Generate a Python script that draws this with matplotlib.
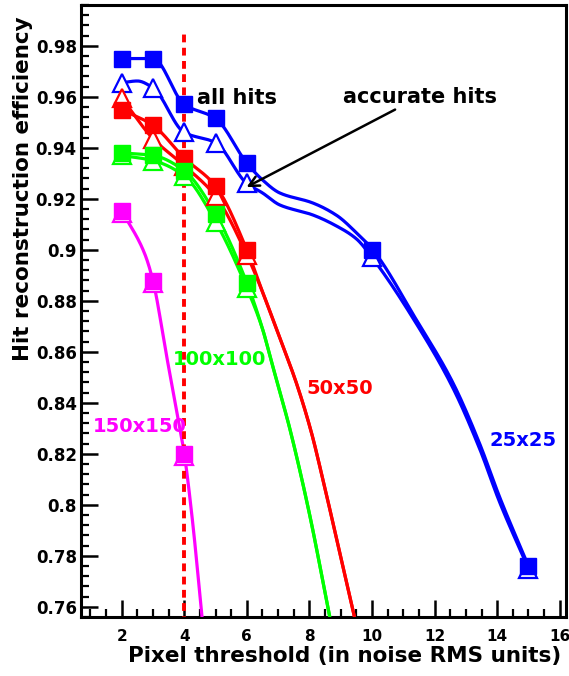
import numpy as np
import matplotlib
matplotlib.use("Agg")
import matplotlib.pyplot as plt
from matplotlib.ticker import MultipleLocator, FixedLocator

# ---------------- data ----------------
thr = [2, 3, 4, 5, 6]
thr_blue = [2, 3, 4, 5, 6, 10, 15]

blue_all = [0.975, 0.975, 0.957, 0.9515, 0.934, 0.900, 0.776]
blue_acc = [0.9655, 0.9635, 0.946, 0.942, 0.926, 0.897, 0.775]
red_all = [0.955, 0.9488, 0.936, 0.925, 0.900]
red_acc = [0.9595, 0.9436, 0.933, 0.921, 0.898]
green_all = [0.938, 0.937, 0.931, 0.914, 0.887]
green_acc = [0.937, 0.935, 0.929, 0.911, 0.885]
thr_mag = [2, 3, 4]
mag_all = [0.9153, 0.8878, 0.820]
mag_acc = [0.9145, 0.887, 0.819]

# traced fitted curves
blue_all_cx = [2, 3, 4, 5, 6, 6.5, 7.05, 8.1, 8.87, 9.5, 10, 11.42, 12.58, 13.44, 14.08, 15]
blue_all_cy = [0.975, 0.975, 0.957, 0.9515, 0.934, 0.9274, 0.9223, 0.9184, 0.9135, 0.9067,
               0.9004, 0.8725, 0.848, 0.824, 0.803, 0.776]
blue_acc_cx = [2, 2.5, 3, 4, 5, 6, 6.5, 7.05, 8.1, 8.87, 9.5, 10, 11.42, 12.58, 13.44,
               14.08, 15]
blue_acc_cy = [0.9655, 0.9662, 0.9635, 0.946, 0.942, 0.926, 0.9223, 0.9176, 0.9137,
               0.9093, 0.9043, 0.897, 0.871, 0.846, 0.822, 0.801, 0.775]
red_tail_x = [6.5, 7.05, 7.59, 8.06, 8.4, 8.75, 9.44]
red_tail_y = [0.8835, 0.8655, 0.8475, 0.8285, 0.8115, 0.793, 0.756]
green_tail_x = [6.5, 6.79, 7.37, 8.0, 8.65]
green_tail_y = [0.869, 0.856, 0.830, 0.7965, 0.756]
mag_cx = [2, 2.73, 3, 3.44, 3.8, 4, 4.26, 4.575]
mag_cy = [0.9153, 0.8986, 0.8878, 0.858, 0.834, 0.820, 0.794, 0.755]

size_labels = ["25x25", "50x50", "100x100", "150x150"]
label_pos = [(14.84, 0.8252), (8.96, 0.8455), (5.13, 0.8568), (2.58, 0.8306)]

cut_x = 4
cut_top = 0.985

xticks = [2, 4, 6, 8, 10, 12, 14, 16]
yticks = [0.76, 0.78, 0.80, 0.82, 0.84, 0.86, 0.88, 0.90, 0.92, 0.94, 0.96, 0.98]
ytick_labels = ["0.76", "0.78", "0.8", "0.82", "0.84", "0.86", "0.88", "0.9",
                "0.92", "0.94", "0.96", "0.98"]

BLUE, RED, GREEN, MAG = "#0000ff", "#ff0000", "#00ff00", "#ff00ff"


def smooth(xs, ys, n=30):
    """Monotone cubic (PCHIP) drawing of the traced curve points."""
    x = np.asarray(xs, float)
    y = np.asarray(ys, float)
    h = np.diff(x)
    d = np.diff(y) / h
    m = np.zeros_like(x)
    m[0], m[-1] = d[0], d[-1]
    for k in range(1, len(x) - 1):
        if d[k - 1] * d[k] <= 0:
            m[k] = 0.0
        else:
            w1 = 2 * h[k] + h[k - 1]
            w2 = h[k] + 2 * h[k - 1]
            m[k] = (w1 + w2) / (w1 / d[k - 1] + w2 / d[k])
    ox, oy = [], []
    for k in range(len(x) - 1):
        t = np.linspace(0, 1, n, endpoint=False)
        h00 = 2 * t ** 3 - 3 * t ** 2 + 1
        h10 = t ** 3 - 2 * t ** 2 + t
        h01 = -2 * t ** 3 + 3 * t ** 2
        h11 = t ** 3 - t ** 2
        ox.append(x[k] + t * h[k])
        oy.append(h00 * y[k] + h10 * h[k] * m[k] + h01 * y[k + 1] + h11 * h[k] * m[k + 1])
    ox.append([x[-1]])
    oy.append([y[-1]])
    return np.concatenate(ox), np.concatenate(oy)


plt.rcParams["font.family"] = ["DejaVu Sans"]
plt.rcParams["font.weight"] = "bold"

fig = plt.figure(figsize=(5.69, 6.76), dpi=100)
ax = fig.add_axes([0.1424, 0.0873, 0.9947 - 0.1424, 0.9926 - 0.0873])

lw = 2.3
sq = dict(marker="s", ms=11.5, mew=1.0, ls="none", zorder=5)
tri = dict(marker="^", ms=12.5, mew=1.6, ls="none", mfc="white", zorder=4)

# curves
for cx, cy, col in [
    (blue_all_cx, blue_all_cy, BLUE),
    (blue_acc_cx, blue_acc_cy, BLUE),
    (thr + red_tail_x, red_all + red_tail_y, RED),
    (thr + red_tail_x, red_acc + red_tail_y, RED),
    (thr + green_tail_x, green_all + green_tail_y, GREEN),
    (thr + green_tail_x, green_acc + green_tail_y, GREEN),
    (mag_cx, mag_cy, MAG),
]:
    sx, sy = smooth(cx, cy)
    ax.plot(sx, sy, color=col, lw=lw, zorder=3, solid_capstyle="butt")

# markers
for xs, ya, yc, col in [
    (thr_blue, blue_all, blue_acc, BLUE),
    (thr, red_all, red_acc, RED),
    (thr, green_all, green_acc, GREEN),
    (thr_mag, mag_all, mag_acc, MAG),
]:
    ax.plot(xs, yc, color=col, mec=col, **tri)
    ax.plot(xs, ya, color=col, mec=col, mfc=col, **sq)

# threshold line
ax.vlines(cut_x, 0.70, cut_top, colors=RED, linestyles=(0, (2.0, 1.4)), lw=2.8, zorder=3.5)

# annotations
ax.text(4.40, 0.9597, "all hits", fontsize=15, fontweight="bold", ha="left", va="center",
        zorder=7)
ax.annotate("accurate hits", xy=(5.99, 0.9246), xytext=(9.06, 0.9600),
            fontsize=15, fontweight="bold", ha="left", va="center",
            arrowprops=dict(arrowstyle="->", color="black", lw=1.8,
                            shrinkA=0, shrinkB=0, mutation_scale=18),
            zorder=7)
for lab, (px, py), col in zip(size_labels, label_pos, [BLUE, RED, GREEN, MAG]):
    ax.text(px, py, lab, color=col, fontsize=14, fontweight="bold", ha="center",
            va="center", zorder=7)

ax.set_xlim(0.7, 16.2)
ax.set_ylim(0.756, 0.996)
ax.set_xticks(xticks)
ax.set_xticklabels([str(v) for v in xticks], fontsize=11, fontweight="bold")
ax.yaxis.set_major_locator(FixedLocator(yticks))
ax.set_yticklabels(ytick_labels, fontsize=12, fontweight="bold")
ax.xaxis.set_minor_locator(MultipleLocator(0.5))
ax.yaxis.set_minor_locator(MultipleLocator(0.004))
ax.tick_params(which="major", direction="in", length=12, width=1.8, top=False, right=False)
ax.tick_params(which="minor", direction="in", length=6, width=1.6, top=False, right=False)
ax.tick_params(axis="x", pad=9)
ax.tick_params(axis="y", pad=3)
for s in ax.spines.values():
    s.set_linewidth(2.2)

ax.set_xlabel("Pixel threshold (in noise RMS units)", fontsize=15.5, fontweight="bold")
ax.set_ylabel("Hit reconstruction efficiency", fontsize=15.5, fontweight="bold")
ax.xaxis.set_label_coords(0.544, -0.048)
ax.yaxis.set_label_coords(-0.10, 0.70)

fig.savefig("out.png", dpi=100)
